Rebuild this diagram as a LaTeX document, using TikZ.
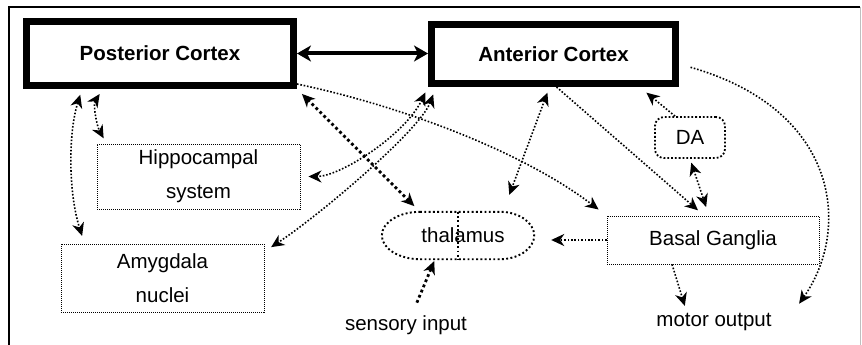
\documentclass[tikz,border=0pt]{standalone}
\usepackage{fontspec}
\setmainfont{Liberation Sans}
\usetikzlibrary{arrows.meta}
\begin{document}
\begin{tikzpicture}[x=1pt,y=-1pt,
 font=\fontsize{20.5}{34}\selectfont,
 >={Stealth[length=13pt,width=12pt,inset=4pt]},
 cortex/.style={draw, line width=7pt, inner sep=0pt, font=\fontsize{20.5}{34}\selectfont\bfseries},
 dotbox/.style={draw, line width=0.9pt, dash pattern=on 1pt off 1pt, inner sep=0pt, align=center},
 conn/.style={line width=1.6pt, dash pattern=on 1.6pt off 1.8pt, ->},
 dconn/.style={line width=1.6pt, dash pattern=on 1.6pt off 1.8pt, <->},
 tconn/.style={line width=2.8pt, dash pattern=on 2.8pt off 2.8pt},
 thalline/.style={line width=1.9pt, dash pattern=on 1.9pt off 2.4pt}
]
\useasboundingbox (0,0) rectangle (862,345);
\fill[white] (0,0) rectangle (862,345);
% frame
\draw[line width=2pt] (9,346) -- (9,7) -- (860,7);
\draw[gray!50, line width=1pt] (860,7) -- (860,346);

% nodes
\node[cortex, minimum width=267pt, minimum height=64pt] (post) at (160,53.5) {Posterior Cortex};
\node[cortex, minimum width=244pt, minimum height=59pt] (ant) at (553.5,54) {Anterior Cortex};
\node[dotbox, minimum width=203pt, minimum height=65pt] (hip) at (198.5,176.5) {Hippocampal\\system};
\node[dotbox, minimum width=203pt, minimum height=68pt] (amy) at (162.5,278) {Amygdala\\nuclei};
\node[minimum width=152pt, minimum height=47pt, inner sep=0pt] (thal) at (458,235.5) {\hspace*{10pt}thalamus};
\node[draw, rounded corners=9pt, line width=1.8pt, dash pattern=on 1.8pt off 2pt, minimum width=70pt, minimum height=41pt, inner sep=0pt] (da) at (690,137.5) {DA};
\node[dotbox, minimum width=212pt, minimum height=48pt] (bg) at (713,240) {Basal Ganglia};
\node (sens) at (406,325) {sensory input};
\node (mot) at (714,322) {motor output};

% thalamus outline
\draw[thalline] ([xshift=-38pt]thal.north) -- ([xshift=42pt]thal.north)
  .. controls +(18.8pt,0pt) and +(0pt,13pt) .. (thal.east)
  .. controls +(0pt,-13pt) and +(18.8pt,0pt) .. ([xshift=42pt]thal.south)
  -- ([xshift=-38pt]thal.south)
  .. controls +(-21pt,0pt) and +(0pt,-13pt) .. (thal.west)
  .. controls +(0pt,13pt) and +(-21pt,0pt) .. ([xshift=-38pt]thal.north);
\draw[thalline] (thal.north) -- (thal.south);

% connectors
\draw[line width=4pt, <->, >={Stealth[length=14pt,width=16pt,inset=4pt]}] (post.east) -- (post.east -| ant.west);
\draw[dconn, shorten <=6pt, shorten >=8pt] ([xshift=59pt]post.south west) .. controls +(-14pt,-45pt) and +(-16pt,50pt) .. ([xshift=24pt]amy.north west);
\draw[dconn, shorten <=6pt, shorten >=6pt] ([xshift=80pt]post.south west) .. controls +(-10pt,-15pt) and +(-10pt,18pt) .. ([xshift=10pt]hip.north west);
\draw[tconn, <->, shorten <=7pt, shorten >=8pt] (post.south east) -- ([xshift=-38pt]thal.north);
\draw[conn, shorten >=10pt] ([yshift=5pt]post.south east) .. controls +(100pt,-21pt) and +(-87pt,66pt) .. (bg.north west);
\draw[dconn, shorten <=6pt, shorten >=8pt] (ant.south west) .. controls +(-23pt,-48pt) and +(40pt,0pt) .. (hip.east);
\draw[dconn, shorten <=8pt, shorten >=8pt] ([xshift=8pt]ant.south west) .. controls +(-16pt,-43pt) and +(56pt,37pt) .. ([yshift=-8pt]amy.north east);
\draw[dconn, shorten <=6pt, shorten >=18pt] ([xshift=-4pt]ant.south) -- ([xshift=45pt]thal.north);
\draw[conn, shorten >=8pt] ([xshift=3pt]ant.south) -- ([xshift=-9pt]bg.north);
\draw[conn, shorten >=9pt] ([xshift=-15pt]da.north) -- ([xshift=86pt]ant.south);
\draw[dconn, shorten <=4pt, shorten >=9pt] (da.south) -- ([xshift=-4pt]bg.north);
\draw[conn, shorten <=12pt] ([yshift=-10pt]ant.east) .. controls +(161pt,-46pt) and +(52pt,74pt) .. ([xshift=24pt,yshift=6pt]mot.north east);
\draw[conn, shorten >=17pt] (bg.west) -- (bg.west -| thal.east);
\draw[conn, shorten >=4pt] ([xshift=-41pt]bg.south) -- ([xshift=-28pt]mot.north);
\draw[tconn, ->, shorten <=10pt, shorten >=2pt] ([xshift=7pt]sens.north) -- ([xshift=-23pt]thal.south);
\end{tikzpicture}
\end{document}
